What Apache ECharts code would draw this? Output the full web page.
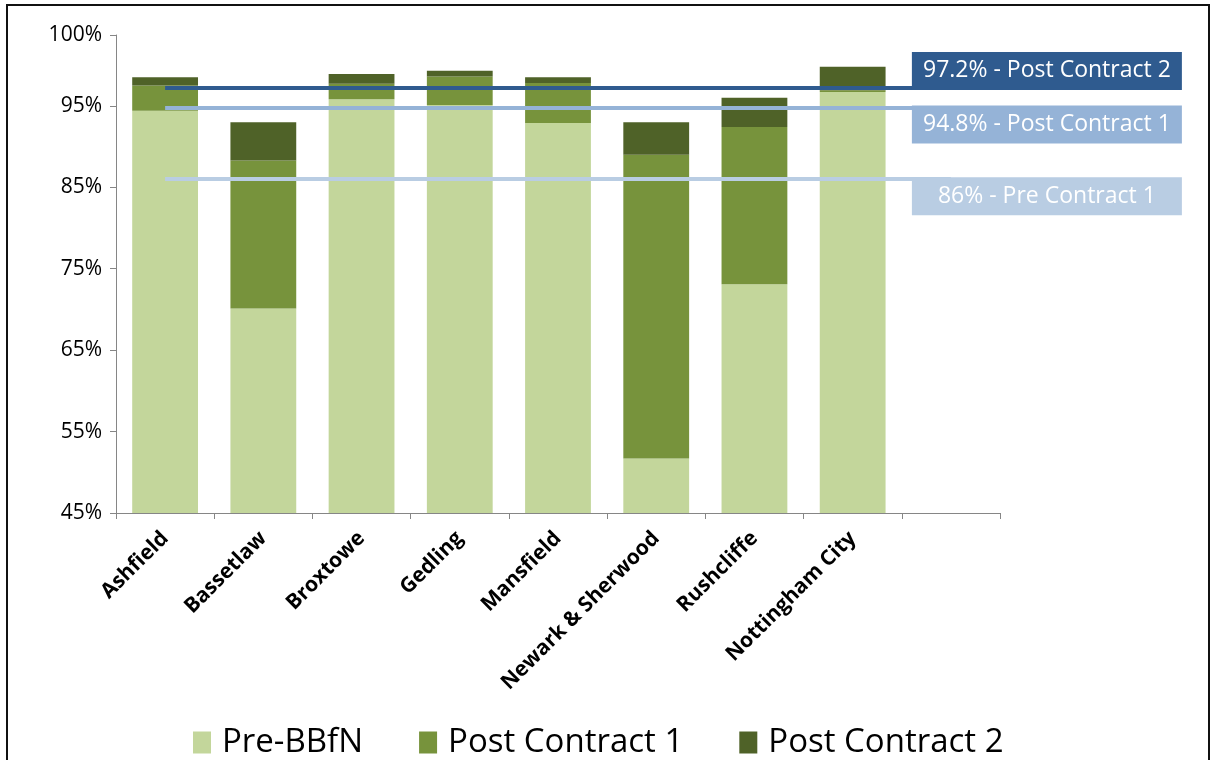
<!DOCTYPE html>
<html>
<head>
<meta charset="utf-8">
<script src="https://cdn.jsdelivr.net/npm/echarts@6/dist/echarts.min.js"></script>
<style>
  html, body { margin: 0; padding: 0; background: #fff; }
  #frame { position: absolute; left: 6px; top: 4px; width: 1204px; height: 800px; border: 2px solid #111; box-sizing: border-box; pointer-events: none; }
</style>
</head>
<body>
<div id="chart" style="width:1213px; height:760px;"></div>
<div id="frame"></div>
<script>
// districts (last slot is left empty, as in the original)
const districts = ['Ashfield', 'Bassetlaw', 'Broxtowe', 'Gedling', 'Mansfield', 'Newark & Sherwood', 'Rushcliffe', 'Nottingham City', ''];

// coverage, % points per stage (stacked)
const preBBfN       = [94.4, 70.1, 95.8, 95.1, 92.9, 51.7, 73.1, 96.7, null];
const postContract1 = [3.1, 18.2, 1.9, 3.5, 4.9, 37.3, 19.3, 0.2, null];
const postContract2 = [1.0, 4.7, 1.2, 0.7, 0.7, 4.0, 3.6, 2.9, null];

// county averages
const refLines = [
  { value: 97.2, text: '97.2% - Post Contract 2' },
  { value: 94.8, text: '94.8% - Post Contract 1' },
  { value: 86,   text: '86% - Pre Contract 1' }
];

const FONT = '"Open Sans", "Liberation Sans", sans-serif';

const lineStyles = [
  { line: '#2f5b8f', box: '#2f5b8f', dy: -17 },
  { line: '#95b3d7', box: '#95b3d7', dy: 17 },
  { line: '#b9cde3', box: '#b9cde3', dy: 17 }
];

const markLines = refLines.map((r, i) => [
  {
    coord: [0, r.value],
    lineStyle: { color: lineStyles[i].line, width: 4, type: 'solid' },
    label: {
      show: true,
      position: 'end',
      formatter: r.text,
      color: '#fff',
      fontFamily: FONT,
      fontSize: 23,
      backgroundColor: lineStyles[i].box,
      width: 266,
      height: 38,
      lineHeight: 38,
      padding: [0, 2],
      align: 'center',
      offset: [91, lineStyles[i].dy]
    }
  },
  { coord: [8, r.value] }
]);

const chart = echarts.init(document.getElementById('chart'));

chart.setOption({
  animation: false,
  backgroundColor: '#fff',
  color: ['#c3d69b', '#77933c', '#4f6228'],
  grid: { left: 116, right: 213, top: 35, bottom: 247 },
  legend: {
    left: 188,
    top: 721,
    itemWidth: 18,
    itemHeight: 22,
    itemGap: 56,
    icon: 'rect',
    textStyle: { fontFamily: FONT, fontSize: 33, color: '#000', padding: [0, 0, 0, 6] },
    data: ['Pre-BBfN', 'Post Contract 1', 'Post Contract 2']
  },
  xAxis: {
    type: 'category',
    data: districts,
    axisLine: { lineStyle: { color: '#868686', width: 1 } },
    axisTick: { show: true, interval: 0, length: 6, lineStyle: { color: '#868686' } },
    axisLabel: {
      interval: 0,
      rotate: 45,
      margin: 22,
      color: '#000',
      fontFamily: FONT,
      fontWeight: 'bold',
      fontSize: 21
    }
  },
  yAxis: {
    type: 'value',
    min: 45,
    max: 103.7,
    interval: 10,
    splitLine: { show: false },
    axisLine: { show: true, lineStyle: { color: '#868686', width: 1 } },
    axisTick: { show: true, length: 6, lineStyle: { color: '#868686' } },
    axisLabel: {
      margin: 14,
      color: '#000',
      fontFamily: FONT,
      fontSize: 21,
      formatter: v => (v > 100 ? '100%' : Math.round(v) + '%')
    }
  },
  series: [
    {
      name: 'Pre-BBfN',
      type: 'bar',
      stack: 'coverage',
      barCategoryGap: '33%',
      data: preBBfN
    },
    {
      name: 'Post Contract 1',
      type: 'bar',
      stack: 'coverage',
      data: postContract1
    },
    {
      name: 'Post Contract 2',
      type: 'bar',
      stack: 'coverage',
      data: postContract2,
      markLine: {
        silent: true,
        symbol: ['none', 'none'],
        data: markLines
      }
    }
  ]
});
</script>
</body>
</html>
